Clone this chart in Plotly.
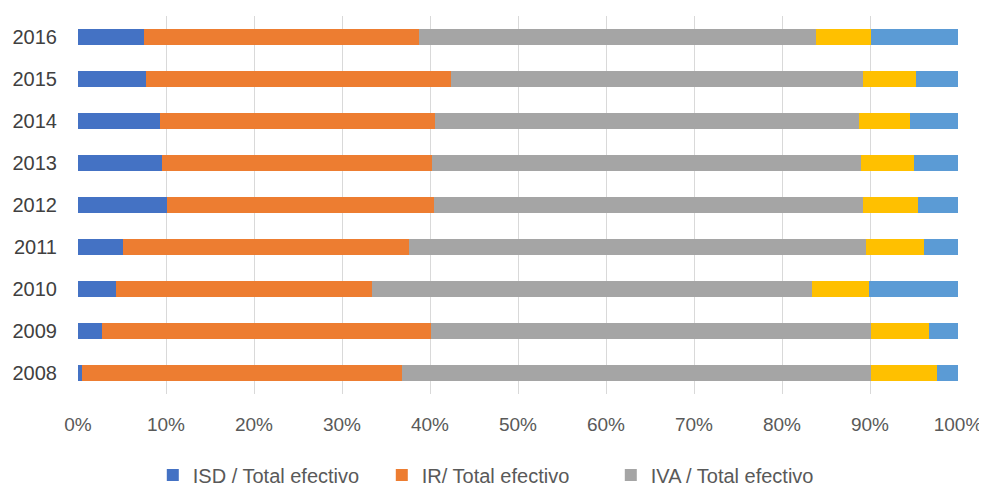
import plotly.graph_objects as go

years = ["2008", "2009", "2010", "2011", "2012", "2013", "2014", "2015", "2016"]
isd = [0.4, 2.75, 4.3, 5.1, 10.1, 9.6, 9.3, 7.7, 7.5]
ir = [36.4, 37.35, 29.1, 32.5, 30.3, 30.6, 31.3, 34.7, 31.3]
iva = [53.3, 50.0, 50.0, 52.0, 48.8, 48.8, 48.1, 46.8, 45.1]
otro1 = [7.5, 6.6, 6.5, 6.5, 6.3, 6.0, 5.9, 6.0, 6.2]
otro2 = [2.4, 3.3, 10.1, 3.9, 4.5, 5.0, 5.4, 4.8, 9.9]
xtick_vals = [0, 10, 20, 30, 40, 50, 60, 70, 80, 90, 100]
xtick_text = ["0%", "10%", "20%", "30%", "40%", "50%", "60%", "70%", "80%", "90%", "100%"]

series = [
    ("ISD / Total efectivo", isd, "#4472C4", True),
    ("IR/ Total efectivo", ir, "#ED7D31", True),
    ("IVA / Total efectivo", iva, "#A5A5A5", True),
    ("Otros 1", otro1, "#FFC000", False),
    ("Otros 2", otro2, "#5B9BD5", False),
]

fig = go.Figure()
for name, vals, color, show in series:
    fig.add_trace(go.Bar(
        y=years, x=vals, name=name, orientation="h",
        marker=dict(color=color, line=dict(width=0)),
        showlegend=show,
    ))

font_family = "Liberation Sans, Arial"
fig.update_layout(
    barmode="stack",
    barnorm="percent",
    width=987, height=491,
    margin=dict(l=70, r=37, t=8, b=105, autoexpand=False),
    paper_bgcolor="white",
    plot_bgcolor="white",
    bargap=0.63,
    font=dict(family=font_family, size=16, color="#595959"),
    xaxis=dict(
        range=[0, 100],
        tickvals=xtick_vals,
        ticktext=xtick_text,
        showgrid=True, gridcolor="#D9D9D9", gridwidth=1,
        zeroline=False, showline=False,
        ticks="", ticklen=0,
        ticklabelstandoff=17,
        tickfont=dict(size=19, color="#595959"),
        automargin=False,
        fixedrange=True,
    ),
    yaxis=dict(
        showgrid=False, zeroline=False, showline=False,
        ticks="", tickfont=dict(size=20, color="#404040"),
        ticklabelstandoff=20,
        automargin=False,
        fixedrange=True,
    ),
    legend=dict(
        orientation="h",
        x=0.085, xanchor="left",
        y=-0.163, yanchor="top",
        font=dict(size=20, color="#595959"),
        traceorder="normal",
        itemwidth=30,
        entrywidth=184, entrywidthmode="pixels",
    ),
)

fig.write_html("out.html")
